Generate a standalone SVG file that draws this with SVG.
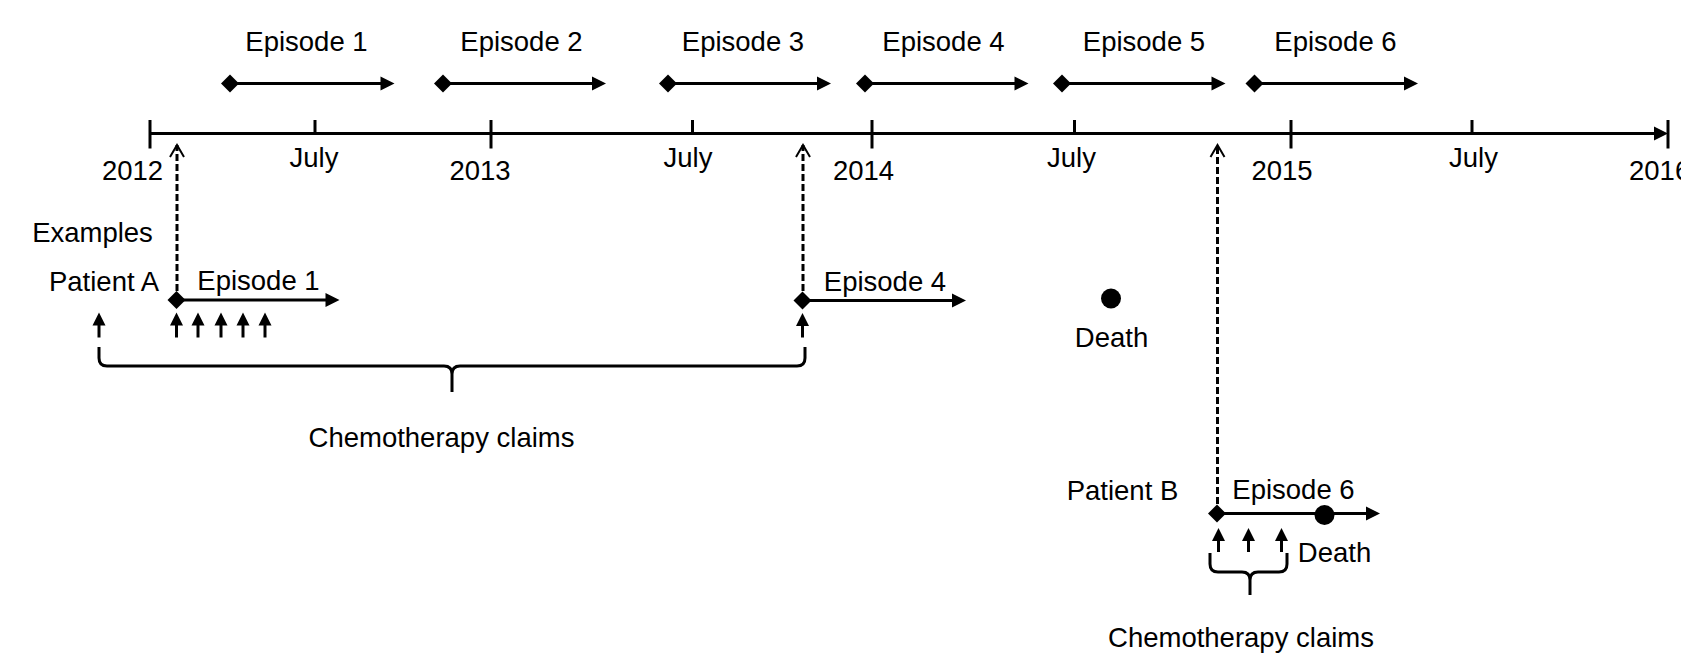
<svg xmlns="http://www.w3.org/2000/svg" width="1681" height="655" viewBox="0 0 1681 655">
<style>
text{font-family:"Liberation Sans",Arial,sans-serif;font-size:27.5px;fill:#000;text-anchor:middle}
.ln{stroke:#000;stroke-width:3;fill:none}
.ep{stroke:#000;stroke-width:3;fill:none;marker-start:url(#dia);marker-end:url(#tri)}
.up{stroke:#000;stroke-width:3;fill:none;marker-end:url(#tris)}
.dash{stroke:#000;stroke-width:3;fill:none;stroke-dasharray:7 3;marker-end:url(#open)}
.brace{stroke:#000;stroke-width:3;fill:none}
</style>
<defs>
<marker id="tri" markerUnits="userSpaceOnUse" markerWidth="14" markerHeight="14" refX="4" refY="7" orient="auto" overflow="visible"><path d="M0,0 L14,7 L0,14 z" fill="#000"/></marker>
<marker id="tris" markerUnits="userSpaceOnUse" markerWidth="13" markerHeight="13" refX="3" refY="6.5" orient="auto" overflow="visible"><path d="M0,0 L13,6.5 L0,13 z" fill="#000"/></marker>
<marker id="dia" markerUnits="userSpaceOnUse" markerWidth="18" markerHeight="18" refX="9" refY="9" orient="auto" overflow="visible"><path d="M0,9 L9,0 L18,9 L9,18 z" fill="#000"/></marker>
<marker id="open" markerUnits="userSpaceOnUse" markerWidth="14" markerHeight="16" refX="12" refY="7" orient="auto" overflow="visible"><path d="M0,0 L12,7 L0,14" fill="none" stroke="#000" stroke-width="2" stroke-dasharray="none"/></marker>
</defs>

<g id="timeline-axis">
<line class="ln" x1="150" y1="133.5" x2="1658" y2="133.5" marker-end="url(#tri)"/>
<line class="ln" x1="150" y1="120" x2="150" y2="148.5"/>
<line class="ln" x1="315" y1="120" x2="315" y2="134"/>
<line class="ln" x1="491" y1="120" x2="491" y2="148.5"/>
<line class="ln" x1="692.5" y1="120" x2="692.5" y2="134"/>
<line class="ln" x1="872" y1="120" x2="872" y2="148.5"/>
<line class="ln" x1="1074.5" y1="120" x2="1074.5" y2="134"/>
<line class="ln" x1="1291" y1="120" x2="1291" y2="148.5"/>
<line class="ln" x1="1472" y1="120" x2="1472" y2="134"/>
<line class="ln" x1="1668" y1="120" x2="1668" y2="148.5"/>
<text x="132.5" y="180">2012</text>
<text x="314" y="167">July</text>
<text x="480" y="180">2013</text>
<text x="688" y="167">July</text>
<text x="863.5" y="180">2014</text>
<text x="1071.5" y="167">July</text>
<text x="1282" y="180">2015</text>
<text x="1473.5" y="167">July</text>
<text x="1629" y="180" style="text-anchor:start">2016</text>
</g>

<g id="episode-1">
<line class="ep" x1="230" y1="83.5" x2="384.5" y2="83.5"/>
<text x="306.5" y="51">Episode 1</text>
</g>
<g id="episode-2">
<line class="ep" x1="443" y1="83.5" x2="596" y2="83.5"/>
<text x="521.5" y="51">Episode 2</text>
</g>
<g id="episode-3">
<line class="ep" x1="668" y1="83.5" x2="821" y2="83.5"/>
<text x="743" y="51">Episode 3</text>
</g>
<g id="episode-4">
<line class="ep" x1="865" y1="83.5" x2="1018.5" y2="83.5"/>
<text x="943.5" y="51">Episode 4</text>
</g>
<g id="episode-5">
<line class="ep" x1="1062" y1="83.5" x2="1215.5" y2="83.5"/>
<text x="1144" y="51">Episode 5</text>
</g>
<g id="episode-6">
<line class="ep" x1="1254.5" y1="83.5" x2="1408" y2="83.5"/>
<text x="1335.5" y="51">Episode 6</text>
</g>

<g id="examples-label">
<text x="92.5" y="241.5">Examples</text>
</g>

<g id="patient-a">
<text x="104" y="291">Patient A</text>
</g>
<g id="patient-a-episode-1">
<line class="ep" x1="176.5" y1="300" x2="329.5" y2="300"/>
<text x="258.5" y="290">Episode 1</text>
</g>
<g id="patient-a-episode-4">
<line class="ep" x1="802.5" y1="300.5" x2="956" y2="300.5"/>
<text x="885" y="290.5">Episode 4</text>
</g>
<g id="patient-a-death">
<circle cx="1111" cy="298.5" r="10" fill="#000"/>
<text x="1111.5" y="346.5">Death</text>
</g>
<g id="patient-a-claims">
<line class="up" x1="99" y1="337.5" x2="99" y2="322.5"/>
<line class="up" x1="176.5" y1="337.5" x2="176.5" y2="322.5"/>
<line class="up" x1="198" y1="337.5" x2="198" y2="322.5"/>
<line class="up" x1="221" y1="337.5" x2="221" y2="322.5"/>
<line class="up" x1="243" y1="337.5" x2="243" y2="322.5"/>
<line class="up" x1="265" y1="337.5" x2="265" y2="322.5"/>
<line class="up" x1="802.5" y1="337.5" x2="802.5" y2="323"/>
<path class="brace" d="M99,347 L99,358 Q99,366 107,366 L444,366 Q452,366 452,374 L452,392 M452,374 Q452,366 460,366 L797,366 Q805,366 805,358 L805,347"/>
<text x="441.5" y="446.5">Chemotherapy claims</text>
</g>

<g id="patient-b">
<text x="1122.5" y="500">Patient B</text>
</g>
<g id="patient-b-episode-6">
<line class="ep" x1="1217" y1="513.5" x2="1370" y2="513.5"/>
<text x="1293.5" y="498.5">Episode 6</text>
</g>
<g id="patient-b-death">
<circle cx="1324.5" cy="515" r="10" fill="#000"/>
<text x="1334.5" y="561.5">Death</text>
</g>
<g id="patient-b-claims">
<line class="up" x1="1218.5" y1="552" x2="1218.5" y2="538"/>
<line class="up" x1="1248.5" y1="552" x2="1248.5" y2="538"/>
<line class="up" x1="1281.5" y1="552" x2="1281.5" y2="538"/>
<path class="brace" d="M1210,553 L1210,564 Q1210,572 1218,572 L1242,572 Q1250,572 1250,580 L1250,595 M1250,580 Q1250,572 1258,572 L1279,572 Q1287,572 1287,564 L1287,553"/>
<text x="1241" y="646.5">Chemotherapy claims</text>
</g>

<g id="connectors">
<line class="dash" x1="177" y1="291" x2="177" y2="145"/>
<line class="dash" x1="803" y1="291" x2="803" y2="145"/>
<line class="dash" x1="1217.5" y1="504" x2="1217.5" y2="145"/>
</g>
</svg>
